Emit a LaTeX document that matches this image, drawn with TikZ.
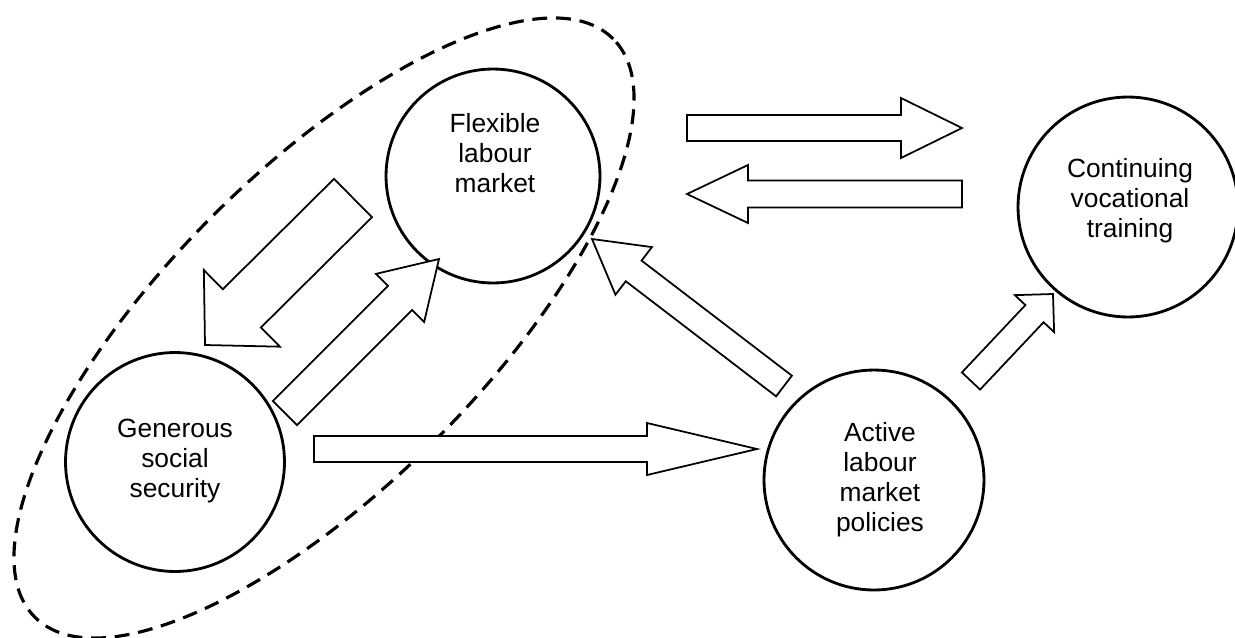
\documentclass[tikz,border=0pt]{standalone}
\usepackage{fontspec}
\setmainfont{Liberation Sans}
\usetikzlibrary{calc}
\tikzset{
    place/.style={circle,draw,line width=1.6pt,inner sep=0pt},
    txt/.style={align=center,font=\fontsize{15}{17}\selectfont,text depth=0pt},
    fat/.style={draw,line width=1pt,fill=white,line join=miter},
    grupo/.style={draw,line width=1.8pt,dash pattern=on 8.5pt off 5pt},
}
% tail, tip, shaft half width, head half width, head length
\newcommand\fatarrow[5]{%
    \path ($(#2)!#5!(#1)$) coordinate (fa-base);
    \draw [fat] ($(#1)!#3!90:(#2)$) -- ($(fa-base)!#3!90:(#2)$) -- ($(fa-base)!#4!90:(#2)$) -- (#2)
        -- ($(fa-base)!#4!-90:(#2)$) -- ($(fa-base)!#3!-90:(#2)$) -- ($(#1)!#3!-90:(#2)$) -- cycle;
}

\begin{document}
\begin{tikzpicture}[x=0.02cm,y=-0.02cm]
    \useasboundingbox (0,0) rectangle (1235,637);
    \draw [grupo] (324,328) ellipse [x radius=8.18cm,y radius=3.16cm,rotate=45];
    \node [place,minimum size=4.28cm,label={[txt,xshift=0.04cm,yshift=0.46cm]center:{Flexible\\labour\\market}}] (flex) at (493,176) {};
    \node [place,minimum size=4.38cm,label={[txt,yshift=0.07cm]center:{Generous\\social\\security}}] (gen) at (175,462) {};
    \node [place,minimum size=4.4cm,label={[txt,xshift=0.12cm,yshift=0.06cm]center:{Active\\labour\\market\\policies}}] (almp) at (874,480) {};
    \node [place,minimum size=4.4cm,label={[txt,xshift=0.04cm,yshift=0.18cm]center:{Continuing\\vocational\\training}}] (cvt) at (1128,207) {};
    \coordinate (fc1) at (687,128);  \coordinate (fc2) at (962,128);
    \coordinate (cf1) at (962,194);  \coordinate (cf2) at (687,194);
    \coordinate (fg1) at (353,198);  \coordinate (fg2) at (205,345);
    \coordinate (gf1) at (285,413);  \coordinate (gf2) at (439,259);
    \coordinate (af1) at (784,386);  \coordinate (af2) at (592,239);
    \coordinate (ga1) at (314,449);  \coordinate (ga2) at (757,449);
    \coordinate (ac1) at (971,381);  \coordinate (ac2) at (1053,294);
    \fatarrow{fc1}{fc2}{0.26cm}{0.6cm}{1.22cm}
    \fatarrow{cf1}{cf2}{0.27cm}{0.58cm}{1.22cm}
    \fatarrow{fg1}{fg2}{0.54cm}{1.08cm}{1.04cm}
    \fatarrow{gf1}{gf2}{0.34cm}{0.68cm}{1.1cm}
    \fatarrow{af1}{af2}{0.26cm}{0.6cm}{1.05cm}
    \fatarrow{ga1}{ga2}{0.26cm}{0.52cm}{2.2cm}
    \fatarrow{ac1}{ac2}{0.25cm}{0.54cm}{0.54cm}
\end{tikzpicture}
\end{document}
